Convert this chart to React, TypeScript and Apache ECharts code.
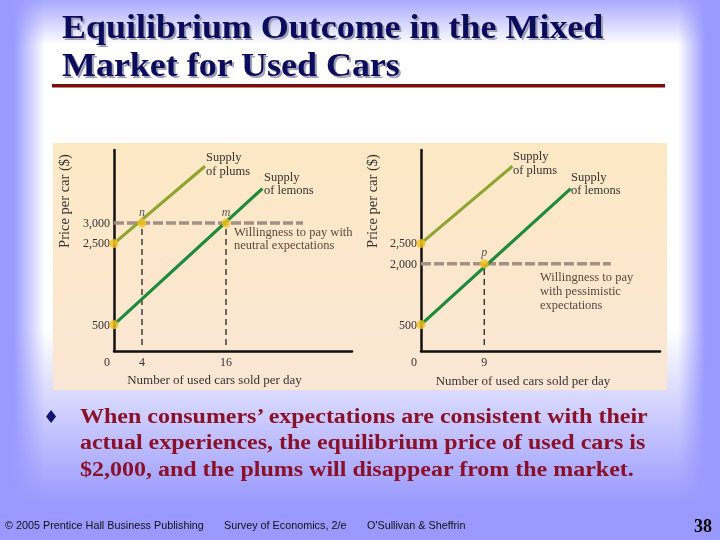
import React, { useEffect, useRef } from 'react';
import * as echarts from 'echarts';

// ---------- text content ----------
const titleLines = ['Equilibrium Outcome in the Mixed', 'Market for Used Cars'];
const bulletLines = [
  'When consumers\u2019 expectations are consistent with their',
  'actual experiences, the equilibrium price of used cars is',
  '$2,000, and the plums will disappear from the market.',
];
const footerLeft = '\u00A9 2005 Prentice Hall Business Publishing';
const footerMid = 'Survey of Economics, 2/e';
const footerRight = "O'Sullivan & Sheffrin";
const pageNumber = '38';
const yAxisTitle = 'Price per car ($)';
const xAxisTitle = 'Number of used cars sold per day';

// ---------- axis ranges ----------
const xMin = 0;
const xMax = 34;
const yMin = -150;
const yMax = 4800;
const yStep = 50;

// ---------- left panel data ----------
const leftXLabels = [4, 16];
const leftYLabels = [500, 2500, 3000];
const leftPlums = [[0, 2500], [13, 4400]];
const leftLemons = [[0, 500], [21.2, 3850]];
const leftWillingness = [[0, 3000], [27, 3000]];
const leftPointNames = ['', 'n', '', 'm'];
const leftPointX = [0, 4, 0, 16];
const leftPointY = [2500, 3000, 500, 3000];

// ---------- right panel data ----------
const rightXLabels = [9];
const rightYLabels = [500, 2000, 2500];
const rightPlums = [[0, 2500], [13, 4400]];
const rightLemons = [[0, 500], [21.3, 3850]];
const rightWillingness = [[0, 2000], [27, 2000]];
const rightPointNames = ['', '', 'p'];
const rightPointX = [0, 0, 9];
const rightPointY = [2500, 500, 2000];

const SERIF = '"Liberation Serif", "Times New Roman", serif';
const SANS = '"Liberation Sans", Arial, sans-serif';
const PLUM_COLOR = '#8ea532';
const LEMON_COLOR = '#1f8a3c';
const DOT_COLOR = '#f4c21c';
const WTP_COLOR = '#a39086';
const AXIS_TEXT = '#333333';
const NOTE_TEXT = '#5a4840';

function makeAxes(gridIndex: number, xLabels: number[], yLabels: number[]) {
  const xAxis = {
    type: 'value',
    gridIndex,
    min: xMin,
    max: xMax,
    interval: 1,
    axisLine: { show: true, onZero: false, lineStyle: { color: '#111', width: 2.5 } },
    axisTick: { show: false },
    splitLine: { show: false },
    axisLabel: {
      show: true,
      margin: 5,
      fontFamily: SERIF,
      fontSize: 12,
      color: AXIS_TEXT,
      formatter: (v: number) => (v === 0 ? '{o|0}' : xLabels.includes(v) ? String(v) : ''),
      rich: {
        o: { padding: [0, 14, 0, 0], fontFamily: SERIF, fontSize: 12, color: AXIS_TEXT },
      },
    },
  };
  const yAxis = {
    type: 'value',
    gridIndex,
    min: yMin,
    max: yMax,
    interval: yStep,
    axisLine: { show: true, onZero: false, lineStyle: { color: '#111', width: 2.5 } },
    axisTick: { show: false },
    splitLine: { show: false },
    axisLabel: {
      show: true,
      margin: 4,
      fontFamily: SERIF,
      fontSize: 12,
      color: AXIS_TEXT,
      formatter: (v: number) => (yLabels.includes(v) ? v.toLocaleString('en-US') : ''),
    },
  };
  return { xAxis, yAxis };
}

function makeSeries(
  idx: number,
  plums: number[][],
  lemons: number[][],
  wtp: number[][],
  names: string[],
  px: number[],
  py: number[]
) {
  const common = { xAxisIndex: idx, yAxisIndex: idx, silent: true, clip: false, symbol: 'none' };
  const out: any[] = [];
  // vertical dashed drop lines from named equilibrium points
  names.forEach((nm, i) => {
    if (!nm) return;
    out.push({
      ...common,
      type: 'line',
      z: 2,
      data: [[px[i], 0], [px[i], py[i]]],
      lineStyle: { color: '#222', width: 1.3, type: [6, 4] },
    });
  });
  out.push({
    ...common,
    type: 'line',
    z: 3,
    data: wtp,
    lineStyle: { color: WTP_COLOR, width: 3.5, type: [10, 3] },
  });
  out.push({ ...common, type: 'line', z: 4, data: plums, lineStyle: { color: PLUM_COLOR, width: 3.2 } });
  out.push({ ...common, type: 'line', z: 4, data: lemons, lineStyle: { color: LEMON_COLOR, width: 3.2 } });
  out.push({
    type: 'scatter',
    xAxisIndex: idx,
    yAxisIndex: idx,
    silent: true,
    clip: false,
    z: 6,
    symbolSize: 9,
    itemStyle: { color: DOT_COLOR },
    data: names.map((nm, i) => ({
      name: nm,
      value: [px[i], py[i]],
      label: {
        show: !!nm,
        position: 'top',
        distance: 1,
        formatter: nm,
        fontFamily: SERIF,
        fontStyle: 'italic',
        fontSize: 12,
        color: AXIS_TEXT,
      },
    })),
  });
  return out;
}

function txt(text: string, x: number, y: number, opts: any = {}) {
  return {
    type: 'text',
    x,
    y,
    z: opts.z || 100,
    silent: true,
    rotation: opts.rotation || 0,
    scaleX: opts.scaleX || 1,
    style: {
      text,
      fill: opts.fill || AXIS_TEXT,
      font: opts.font || `12.5px ${SERIF}`,
      textAlign: opts.align || 'left',
      textVerticalAlign: opts.valign || 'top',
      lineHeight: opts.lineHeight || 13.5,
    },
  };
}

const lav = (a: number) => `rgba(153,153,255,${a})`;

export default function App() {
  const ref = useRef<HTMLDivElement>(null);
  useEffect(() => {
    document.body.style.margin = '0';
    if (!ref.current) return;
    const chart = echarts.init(ref.current, undefined, { renderer: 'svg' });
    const L = makeAxes(0, leftXLabels, leftYLabels);
    const R = makeAxes(1, rightXLabels, rightYLabels);
    const titleOpts = {
      font: `bold 33px ${SERIF}`,
      fill: '#0c0c5c',
      valign: 'middle',
      scaleX: 1.09,
      lineHeight: 36,
    };
    const shadowOpts = { ...titleOpts, fill: '#a0a0b4', z: 99 };
    const t1y = 26.5;
    const t2y = 65;

    const graphics: any[] = [
      // slide background
      { type: 'rect', z: -100, silent: true, shape: { x: 0, y: 0, width: 720, height: 540 }, style: { fill: '#ffffff' } },
      {
        type: 'rect', z: -99, silent: true, shape: { x: 0, y: 0, width: 720, height: 45 },
        style: { fill: new echarts.graphic.LinearGradient(0, 0, 0, 1, [{ offset: 0, color: lav(0.85) }, { offset: 1, color: lav(0) }]) },
      },
      {
        type: 'rect', z: -99, silent: true, shape: { x: 0, y: 330, width: 720, height: 210 },
        style: { fill: new echarts.graphic.LinearGradient(0, 0, 0, 1, [{ offset: 0, color: lav(0) }, { offset: 0.83, color: lav(1) }, { offset: 1, color: lav(1) }]) },
      },
      {
        type: 'rect', z: -99, silent: true, shape: { x: 0, y: 0, width: 45, height: 540 },
        style: { fill: new echarts.graphic.LinearGradient(0, 0, 1, 0, [{ offset: 0, color: lav(1) }, { offset: 0.3, color: lav(1) }, { offset: 1, color: lav(0) }]) },
      },
      {
        type: 'rect', z: -99, silent: true, shape: { x: 678, y: 0, width: 42, height: 540 },
        style: { fill: new echarts.graphic.LinearGradient(0, 0, 1, 0, [{ offset: 0, color: lav(0) }, { offset: 0.65, color: lav(1) }, { offset: 1, color: lav(1) }]) },
      },
      // chart panel
      {
        type: 'rect', z: -90, silent: true, shape: { x: 53, y: 143, width: 614, height: 247 },
        style: { fill: new echarts.graphic.LinearGradient(0, 0, 0, 1, [{ offset: 0, color: '#fde8c4' }, { offset: 1, color: '#fbe6d5' }]) },
      },
      // title (with drop shadow copy)
      txt(titleLines[0], 64, t1y + 2, shadowOpts),
      txt(titleLines[1], 64, t2y + 2, shadowOpts),
      txt(titleLines[0], 62, t1y, titleOpts),
      txt(titleLines[1], 62, t2y, titleOpts),
      { type: 'rect', z: 100, silent: true, shape: { x: 52, y: 84, width: 613, height: 3.5 }, style: { fill: '#7a0c0c' } },
      // left panel texts
      txt(yAxisTitle, 63.5, 201, { font: `14.5px ${SERIF}`, align: 'center', valign: 'middle', rotation: Math.PI / 2 }),
      txt(xAxisTitle, 214.5, 379.5, { font: `13px ${SERIF}`, align: 'center', valign: 'middle' }),
      txt('Supply\nof plums', 206, 150.5),
      txt('Supply\nof lemons', 264, 170),
      txt('Willingness to pay with\nneutral expectations', 234, 225, { fill: NOTE_TEXT }),
      // right panel texts
      txt(yAxisTitle, 372, 201, { font: `14.5px ${SERIF}`, align: 'center', valign: 'middle', rotation: Math.PI / 2 }),
      txt(xAxisTitle, 523, 380, { font: `13px ${SERIF}`, align: 'center', valign: 'middle' }),
      txt('Supply\nof plums', 513, 149.5),
      txt('Supply\nof lemons', 571, 170),
      txt('Willingness to pay\nwith pessimistic\nexpectations', 540, 269.5, { fill: NOTE_TEXT, lineHeight: 14 }),
      // bullet
      txt('\u2666', 51, 416.5, { font: `18px "DejaVu Sans", sans-serif`, fill: '#121270', align: 'center', valign: 'middle' }),
      txt(bulletLines.join('\n'), 80, 402.3, { font: `bold 20.5px ${SERIF}`, fill: '#8b1029', lineHeight: 26.7, scaleX: 1.17 }),
      // footer
      txt(footerLeft, 5, 525, { font: `10.8px ${SANS}`, fill: '#111', valign: 'middle' }),
      txt(footerMid, 224, 525, { font: `10.8px ${SANS}`, fill: '#111', valign: 'middle' }),
      txt(footerRight, 367, 525, { font: `10.8px ${SANS}`, fill: '#111', valign: 'middle' }),
      txt(pageNumber, 712, 526, { font: `bold 18px ${SERIF}`, fill: '#000', align: 'right', valign: 'middle' }),
    ];

    chart.setOption({
      animation: false,
      graphic: { elements: graphics },
      grid: [
        { left: 114, top: 150, width: 238, height: 201, containLabel: false },
        { left: 421, top: 150, width: 239, height: 201, containLabel: false },
      ],
      xAxis: [L.xAxis, R.xAxis],
      yAxis: [L.yAxis, R.yAxis],
      series: [
        ...makeSeries(0, leftPlums, leftLemons, leftWillingness, leftPointNames, leftPointX, leftPointY),
        ...makeSeries(1, rightPlums, rightLemons, rightWillingness, rightPointNames, rightPointX, rightPointY),
      ],
    });
    return () => chart.dispose();
  }, []);
  return <div ref={ref} style={{ position: 'fixed', left: 0, top: 0, width: 720, height: 540 }} />;
}
